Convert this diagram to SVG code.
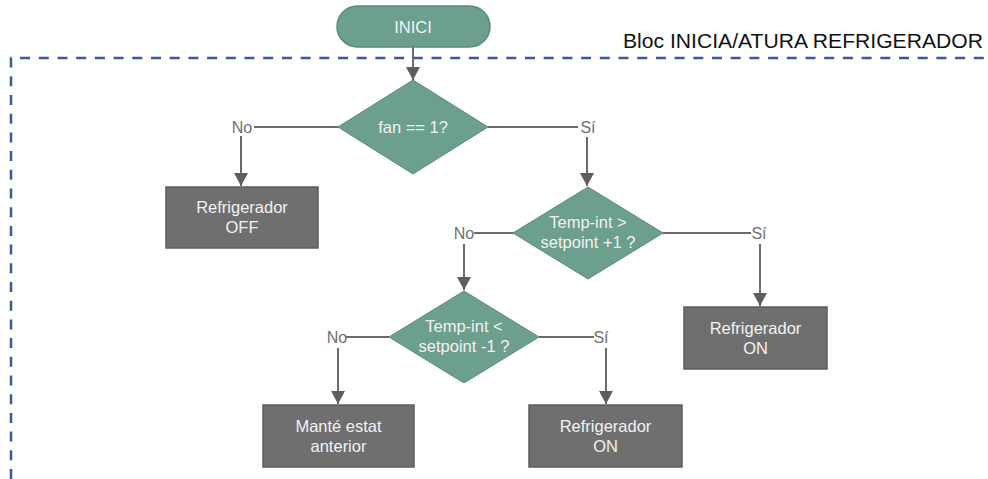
<svg xmlns="http://www.w3.org/2000/svg" width="988" height="479" viewBox="0 0 988 479">
  <style>
    .term { fill: #6c9f8e; stroke: #5a8a7a; stroke-width: 1.5; }
    .dec { fill: #6c9f8e; stroke: #5a8a7a; stroke-width: 1; }
    .proc { fill: #6f6f6f; stroke: #5c5c5c; stroke-width: 1.5; }
    .in { font-family: "Liberation Sans", Arial, sans-serif; font-size: 16.5px; fill: #f2f2f2; text-anchor: middle; }
    .lbl { font-family: "Liberation Sans", Arial, sans-serif; font-size: 16px; fill: #707070; text-anchor: middle; }
    .hdr { font-family: "Liberation Sans", Arial, sans-serif; font-size: 21px; fill: #111111; }
    .wire { fill: none; stroke: #6a6a6a; stroke-width: 2; }
    .frame { fill: none; stroke: #3b5a96; stroke-width: 2.5; stroke-dasharray: 10 8.7; }
  </style>
  <defs>
    <marker id="arrow" markerUnits="userSpaceOnUse" markerWidth="14" markerHeight="14" refX="13" refY="7" orient="auto">
      <path d="M0,0 L13,7 L0,14 Z" fill="#5e5e5e"/>
    </marker>
  </defs>

  <rect width="988" height="479" fill="#ffffff"/>

  <!-- block frame -->
  <g id="block-frame">
    <path class="frame" d="M11,479 V58 H987"/>
    <text class="hdr" x="623" y="48" textLength="360" lengthAdjust="spacingAndGlyphs">Bloc INICIA/ATURA REFRIGERADOR</text>
  </g>

  <!-- connectors -->
  <g id="connectors">
    <path class="wire" d="M413,47 V80" marker-end="url(#arrow)"/>
    <!-- fan == 1? -->
    <path class="wire" d="M338,127 H254"/>
    <path class="wire" d="M241,136 V186" marker-end="url(#arrow)"/>
    <path class="wire" d="M488,127 H578"/>
    <path class="wire" d="M587,137 V186" marker-end="url(#arrow)"/>
    <!-- Temp-int > setpoint +1 ? -->
    <path class="wire" d="M513,233 H474"/>
    <path class="wire" d="M464,244 V290" marker-end="url(#arrow)"/>
    <path class="wire" d="M663,233 H751"/>
    <path class="wire" d="M760,244 V306" marker-end="url(#arrow)"/>
    <!-- Temp-int < setpoint -1 ? -->
    <path class="wire" d="M389,337 H346"/>
    <path class="wire" d="M338,348 V404" marker-end="url(#arrow)"/>
    <path class="wire" d="M539,337 H594"/>
    <path class="wire" d="M606,348 V404" marker-end="url(#arrow)"/>
    <!-- branch labels -->
    <text class="lbl" x="242" y="133">No</text>
    <text class="lbl" x="588" y="133">Sí</text>
    <text class="lbl" x="464" y="239">No</text>
    <text class="lbl" x="759" y="239">Sí</text>
    <text class="lbl" x="337" y="343">No</text>
    <text class="lbl" x="601" y="343">Sí</text>
  </g>

  <g id="inici">
    <rect class="term" x="337" y="6" width="153" height="41" rx="20.5"/>
    <text class="in" x="413" y="33">INICI</text>
  </g>

  <g id="fan-check">
    <polygon class="dec" points="413,80 488,127 413,174 338,127"/>
    <text class="in" x="413" y="133">fan == 1?</text>
  </g>

  <g id="refrigerador-off">
    <rect class="proc" x="166" y="187" width="152" height="61"/>
    <text class="in" x="242" y="213">Refrigerador</text>
    <text class="in" x="242" y="233">OFF</text>
  </g>

  <g id="temp-high-check">
    <polygon class="dec" points="588,187 663,233 588,279 513,233"/>
    <text class="in" x="588" y="228">Temp-int &gt;</text>
    <text class="in" x="588" y="248">setpoint +1 ?</text>
  </g>

  <g id="refrigerador-on-1">
    <rect class="proc" x="684" y="307" width="143" height="62"/>
    <text class="in" x="755.5" y="334">Refrigerador</text>
    <text class="in" x="755.5" y="354">ON</text>
  </g>

  <g id="temp-low-check">
    <polygon class="dec" points="464,291 539,337 464,383 389,337"/>
    <text class="in" x="464" y="332">Temp-int &lt;</text>
    <text class="in" x="464" y="352">setpoint -1 ?</text>
  </g>

  <g id="mante-estat">
    <rect class="proc" x="263" y="405" width="151" height="62"/>
    <text class="in" x="338.5" y="432">Manté estat</text>
    <text class="in" x="338.5" y="452">anterior</text>
  </g>

  <g id="refrigerador-on-2">
    <rect class="proc" x="529" y="405" width="153" height="62"/>
    <text class="in" x="605.5" y="432">Refrigerador</text>
    <text class="in" x="605.5" y="452">ON</text>
  </g>
</svg>
